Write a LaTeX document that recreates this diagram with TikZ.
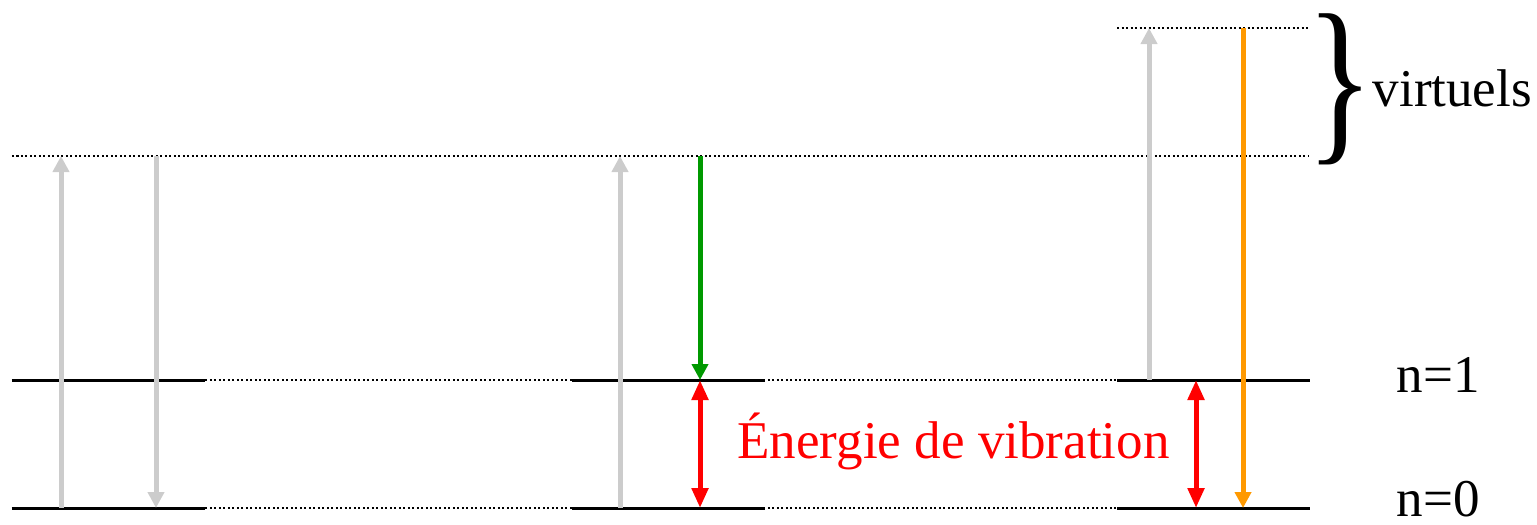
\documentclass[tikz,border=0pt]{standalone}
\usepackage{fontspec}
\setmainfont{Liberation Serif}
\usetikzlibrary{arrows.meta}
\definecolor{orangeas}{RGB}{255,153,0}
\definecolor{vertst}{RGB}{0,153,0}

\begin{document}
\begin{tikzpicture}[
   niveau/.style={line width=0.03cm},
   pointille/.style={line width=0.015cm, dash pattern=on 0.02cm off 0.025cm},
   tete/.style={-{Triangle[length=0.16cm,width=0.16cm]}},
   gris/.style={tete, line width=0.05cm, color=black!20},
   double/.style={{Triangle[length=0.2cm,width=0.16cm]}-{Triangle[length=0.2cm,width=0.16cm]}, line width=0.05cm, red},
   texte/.style={font=\fontsize{15.1}{17}\selectfont, inner sep=0pt}
]
   \useasboundingbox (0,0) rectangle (15.37,5.24);

   % niveaux
   \coordinate (n0g) at (0.12,0.16);
   \coordinate (n0d) at (13.10,0.16);
   \coordinate (n1g) at (0.12,1.44);
   \coordinate (n1d) at (13.10,1.44);
   \coordinate (v1g) at (0.12,3.68);
   \coordinate (v1d) at (13.08,3.68);
   \coordinate (v2g) at (11.17,4.96);
   \coordinate (v2d) at (13.08,4.96);

   \draw[pointille] (n0g) -- (n0d);
   \draw[pointille] (n1g) -- (n1d);
   \draw[pointille] (v1g) -- (v1d);
   \draw[pointille] (v2g) -- (v2d);

   \foreach \xa/\xb in {0.12/2.05, 5.72/7.65, 11.17/13.10}
   {
     \draw[niveau] (\xa,0.16) -- (\xb,0.16);
     \draw[niveau] (\xa,1.44) -- (\xb,1.44);
   }

   % Rayleigh
   \draw[gris] (0.61,0.16) -- (0.61,3.68);
   \draw[gris] (1.56,3.68) -- (1.56,0.16);

   % Stokes
   \draw[gris] (6.20,0.16) -- (6.20,3.68);
   \draw[tete, line width=0.05cm, color=vertst] (7.00,3.68) -- (7.00,1.44);
   \draw[double] (7.00,1.44) -- (7.00,0.16);

   % anti-Stokes
   \draw[gris] (11.49,1.44) -- (11.49,4.96);
   \draw[tete, line width=0.05cm, color=orangeas] (12.43,4.96) -- (12.43,0.16);
   \draw[double] (11.96,1.44) -- (11.96,0.16);

   \node[inner sep=0pt] (acc) at (13.40,4.35) {\fontsize{40}{40}\selectfont\scalebox{1}[1.3]{\}}};

   \node[texte, anchor=base west] (virt) at (13.72,4.18) {virtuels};
   \node[texte, anchor=base] (un) at (14.38,1.32) {n=1};
   \node[texte, anchor=base] (zero) at (14.38,0.08) {n=0};
   \node[texte, anchor=base, red] (vib) at (9.535,0.66) {Énergie de vibration};

\end{tikzpicture}
\end{document}
